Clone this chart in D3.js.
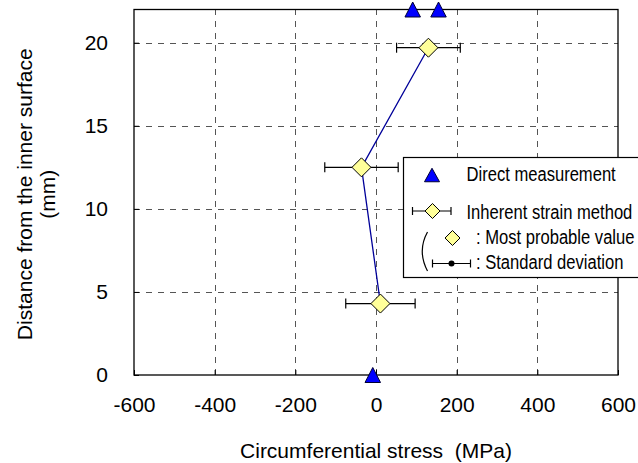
<!DOCTYPE html>
<html>
<head>
<meta charset="utf-8">
<script src="https://cdn.jsdelivr.net/npm/d3@7"></script>
<style>
  html, body { margin: 0; padding: 0; background: #fff; }
  svg { display: block; font-family: "Liberation Sans", Arial, sans-serif; }
</style>
</head>
<body>
<svg id="chart" width="638" height="463"></svg>
<script>
// Axis ticks
const stressTicks = [-600, -400, -200, 0, 200, 400, 600];
const depthTicks = [0, 5, 10, 15, 20];

// Direct measurement (triangles)
const directStress = [-8, 91, 155];
const directDepth = [0, 22, 22];

// Inherent strain method: most probable value and standard deviation
const inherentDepth = [19.7, 12.5, 4.3];
const inherentMean = [130, -36, 11];
const inherentSd = [79, 91, 86];

// Legend texts
const legendLabels = ["Direct measurement", "Inherent strain method", ": Most probable value", ": Standard deviation"];

const svg = d3.select("#chart");
const plotL = 134, plotR = 618, plotT = 9.5, plotB = 375;

const x = d3.scaleLinear().domain([-600, 600]).range([plotL, plotR]);
const y = d3.scaleLinear().domain([0, 22]).range([plotB, plotT]);

const FONT = 21;

// dashed grid
const grid = svg.append("g").attr("stroke", "#555").attr("stroke-width", 1)
  .attr("stroke-dasharray", "6,6").attr("shape-rendering", "crispEdges");
grid.selectAll("line.v").data(stressTicks.filter(d => d > -600 && d < 600)).join("line")
  .attr("class", "v")
  .attr("x1", d => Math.round(x(d)) + 0.5).attr("x2", d => Math.round(x(d)) + 0.5)
  .attr("y1", plotB).attr("y2", plotT);
grid.selectAll("line.h").data(depthTicks.filter(d => d > 0)).join("line")
  .attr("class", "h")
  .attr("x1", plotL).attr("x2", plotR)
  .attr("y1", d => Math.round(y(d)) + 0.5).attr("y2", d => Math.round(y(d)) + 0.5);

// axes
const xAxis = svg.append("g").attr("transform", `translate(0,${plotB})`)
  .call(d3.axisBottom(x).tickValues(stressTicks).tickFormat(d => String(d))
    .tickSizeInner(-5).tickSizeOuter(0).tickPadding(22));
const yAxis = svg.append("g").attr("transform", `translate(${plotL},0)`)
  .call(d3.axisLeft(y).tickValues(depthTicks).tickFormat(d => String(d))
    .tickSizeInner(-5).tickSizeOuter(0).tickPadding(26));
[xAxis, yAxis].forEach(a => {
  a.select(".domain").remove();
  a.selectAll("line").attr("stroke", "#000");
  a.selectAll("text").attr("font-size", FONT).attr("fill", "#000")
    .attr("font-family", "Liberation Sans, Arial, sans-serif");
});

// frame
svg.append("rect").attr("x", plotL).attr("y", plotT).attr("width", plotR - plotL).attr("height", plotB - plotT)
  .attr("fill", "none").attr("stroke", "#000").attr("stroke-width", 1.3);

// axis titles
svg.append("text").attr("x", (plotL + plotR) / 2).attr("y", 458)
  .attr("text-anchor", "middle").attr("font-size", FONT)
  .style("white-space", "pre")
  .text("Circumferential stress  (MPa)");
const yTitle = svg.append("g").attr("transform", `translate(0,${(plotT + plotB) / 2 + 2}) rotate(-90)`);
yTitle.append("text").attr("x", 0).attr("y", 32).attr("text-anchor", "middle").attr("font-size", FONT)
  .text("Distance from the inner surface");
yTitle.append("text").attr("x", 0).attr("y", 55).attr("text-anchor", "middle").attr("font-size", FONT)
  .text("(mm)");

// inherent strain series
const pts = inherentDepth.map((d, i) => ({ depth: d, mean: inherentMean[i], sd: inherentSd[i] }));
const eb = svg.append("g").attr("stroke", "#000").attr("stroke-width", 1.2);
pts.forEach(p => {
  const cy = y(p.depth), x0 = x(p.mean - p.sd), x1 = x(p.mean + p.sd);
  eb.append("line").attr("x1", x0).attr("x2", x1).attr("y1", cy).attr("y2", cy);
  eb.append("line").attr("x1", x0).attr("x2", x0).attr("y1", cy - 5).attr("y2", cy + 5);
  eb.append("line").attr("x1", x1).attr("x2", x1).attr("y1", cy - 5).attr("y2", cy + 5);
});
svg.append("path").datum(pts)
  .attr("d", d3.line().x(p => x(p.mean)).y(p => y(p.depth)))
  .attr("fill", "none").attr("stroke", "#000099").attr("stroke-width", 1.3);

const diamond = (cx, cy, r) => `M${cx},${cy - r}L${cx + r},${cy}L${cx},${cy + r}L${cx - r},${cy}Z`;
const triangle = (cx, cy, w, h) => `M${cx},${cy - h / 2}L${cx + w / 2},${cy + h / 2}L${cx - w / 2},${cy + h / 2}Z`;

svg.append("g").selectAll("path").data(pts).join("path")
  .attr("d", p => diamond(x(p.mean), y(p.depth), 9.5))
  .attr("fill", "#ffff99").attr("stroke", "#000").attr("stroke-width", 1);

// direct measurement
svg.append("g").selectAll("path").data(directStress.map((s, i) => ({ s, d: directDepth[i] }))).join("path")
  .attr("d", p => triangle(x(p.s), y(p.d), 15.5, 15))
  .attr("fill", "#0000ff").attr("stroke", "#000033").attr("stroke-width", 1);

// legend
const lg = svg.append("g");
lg.append("rect").attr("x", 403.5).attr("y", 157.5).attr("width", 250).attr("height", 120)
  .attr("fill", "#fff").attr("stroke", "#000").attr("stroke-width", 1.2);
lg.append("path").attr("d", triangle(432, 175, 15, 13.5)).attr("fill", "#0000ff")
  .attr("stroke", "#000033").attr("stroke-width", 1);
// error bar with diamond
lg.append("line").attr("x1", 412.5).attr("x2", 451).attr("y1", 211).attr("y2", 211).attr("stroke", "#000").attr("stroke-width", 1.2);
lg.append("line").attr("x1", 412.5).attr("x2", 412.5).attr("y1", 207).attr("y2", 215).attr("stroke", "#000").attr("stroke-width", 1.2);
lg.append("line").attr("x1", 451).attr("x2", 451).attr("y1", 207).attr("y2", 215).attr("stroke", "#000").attr("stroke-width", 1.2);
lg.append("path").attr("d", diamond(432.5, 211, 7.5)).attr("fill", "#ffff99").attr("stroke", "#000");
// bracket
lg.append("path").attr("d", "M427.5,232 Q417,251 427.5,271").attr("fill", "none").attr("stroke", "#000").attr("stroke-width", 1.2);
lg.append("path").attr("d", diamond(452.5, 238, 7.5)).attr("fill", "#ffff99").attr("stroke", "#000");
// standard deviation symbol
lg.append("line").attr("x1", 432.5).attr("x2", 470.5).attr("y1", 263.5).attr("y2", 263.5).attr("stroke", "#000").attr("stroke-width", 1.2);
lg.append("line").attr("x1", 432.5).attr("x2", 432.5).attr("y1", 259.5).attr("y2", 267.5).attr("stroke", "#000").attr("stroke-width", 1.2);
lg.append("line").attr("x1", 470.5).attr("x2", 470.5).attr("y1", 259.5).attr("y2", 267.5).attr("stroke", "#000").attr("stroke-width", 1.2);
lg.append("circle").attr("cx", 451.5).attr("cy", 263.5).attr("r", 3).attr("fill", "#000");

const legendPos = [[466.5, 180.5], [466.5, 218.5], [476, 243.5], [476, 268.5]];
lg.selectAll("text").data(legendLabels).join("text")
  .attr("transform", (d, i) => `translate(${legendPos[i][0]},${legendPos[i][1]}) scale(0.79,1)`)
  .attr("font-size", FONT).attr("fill", "#000")
  .text(d => d);
</script>
</body>
</html>
